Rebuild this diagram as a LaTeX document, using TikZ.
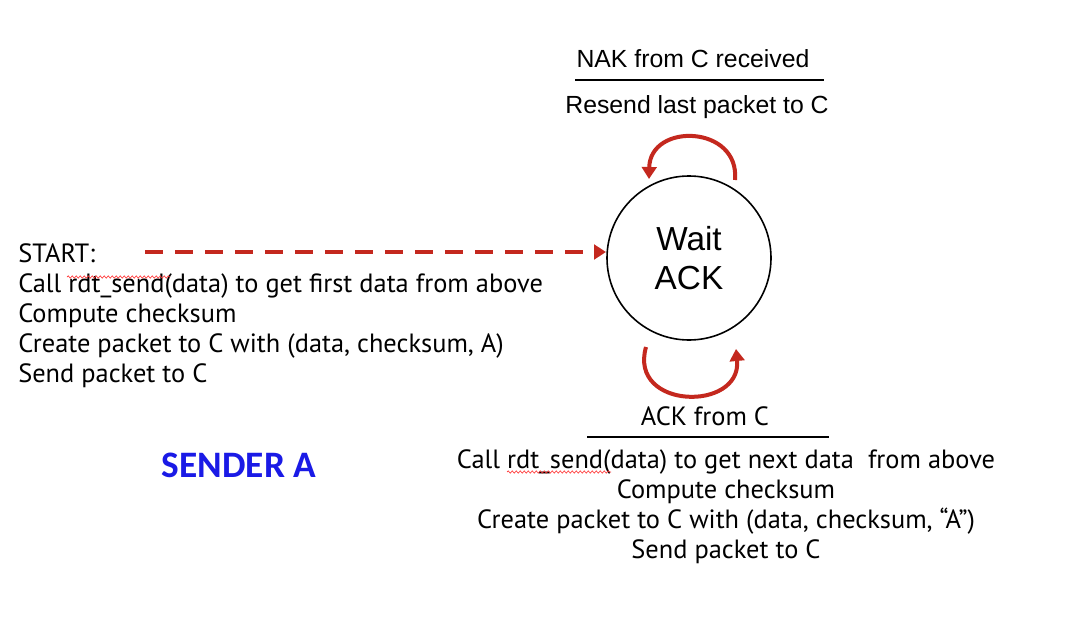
\documentclass[tikz,border=0pt]{standalone}
\usepackage{fontspec}
\setmainfont{Liberation Sans}
\newfontfamily\bodyfont{PT Sans}
\newfontfamily\boldfont{Carlito}
\usetikzlibrary{arrows.meta,decorations.pathmorphing}
\definecolor{loopred}{RGB}{196,40,30}
\definecolor{senderblue}{RGB}{26,26,230}
\tikzset{
  loop/.style={draw=loopred,line width=3pt,-{Triangle[length=9pt,width=11pt]}},
  body/.style={font=\bodyfont\fontsize{19.8}{22.5}\selectfont,inner sep=0pt},
  helv/.style={font=\fontsize{18.6}{22}\selectfont,inner sep=0pt},
  rule/.style={draw=black,line width=1.6pt},
  squiggle/.style={draw=red!80,line width=0.5pt,decorate,decoration={snake,amplitude=0.8pt,segment length=3pt}}
}
\begin{document}
\begin{tikzpicture}[x=0.75pt,y=-0.75pt]
\path[use as bounding box,fill=white] (0,0) rectangle (1070,624);

% state
\node[draw,circle,line width=1.2pt,minimum size=123pt,inner sep=0pt,
      font=\fontsize{25}{29}\selectfont,align=center] (wait) at (689,258) {Wait\\ACK};

% top self loop
\coordinate (t1) at (735,180);
\coordinate (t2) at (649,179);
\draw[loop] (t1) .. controls (740,125) and (650,122) .. (t2);

% bottom self loop
\coordinate (b1) at (646,347);
\coordinate (b2) at (736,349);
\draw[loop] (b1) .. controls (628,410) and (742,412) .. (b2);

% top label
\node[helv] (nak) at (693,59) {NAK from C received};
\coordinate (r1) at (575,80);
\coordinate (r2) at (824,80);
\draw[rule] (r1) -- (r2);
\node[helv] (resend) at (697,107) {Resend last packet to C};

% start text
\node[body,anchor=north west,align=left] (start) at (18,243)
{START:\\Call rdt\_send(data) to get first data from above\\Compute checksum\\Create packet to C with (data, checksum, A)\\Send packet to C};
\coordinate (s0) at (145,252);
\coordinate (s1) at (606,252);
\draw[draw=loopred,line width=3pt,dash pattern=on 13.5pt off 9pt,-{Triangle[length=9pt,width=11pt]}] (s0) -- (s1);

\coordinate (sq1) at (67,277);
\coordinate (sq2) at (170,277);
\draw[squiggle] (sq1) -- (sq2);

% bottom label
\node[body] (ack) at (705,416) {ACK from C};
\coordinate (r3) at (587,437);
\coordinate (r4) at (829,437);
\draw[rule] (r3) -- (r4);
\node[body,anchor=north,align=center] (act) at (726,449)
{Call rdt\_send(data) to get next data \ from above\\Compute checksum\\Create packet to C with (data, checksum, “A”)\\Send packet to C};
\coordinate (sq3) at (507,472);
\coordinate (sq4) at (611,472);
\draw[squiggle] (sq3) -- (sq4);

% sender label
\node[font=\boldfont\bfseries\fontsize{28}{32}\selectfont,text=senderblue,inner sep=0pt] (sender) at (239,465) {SENDER A};
\end{tikzpicture}
\end{document}
